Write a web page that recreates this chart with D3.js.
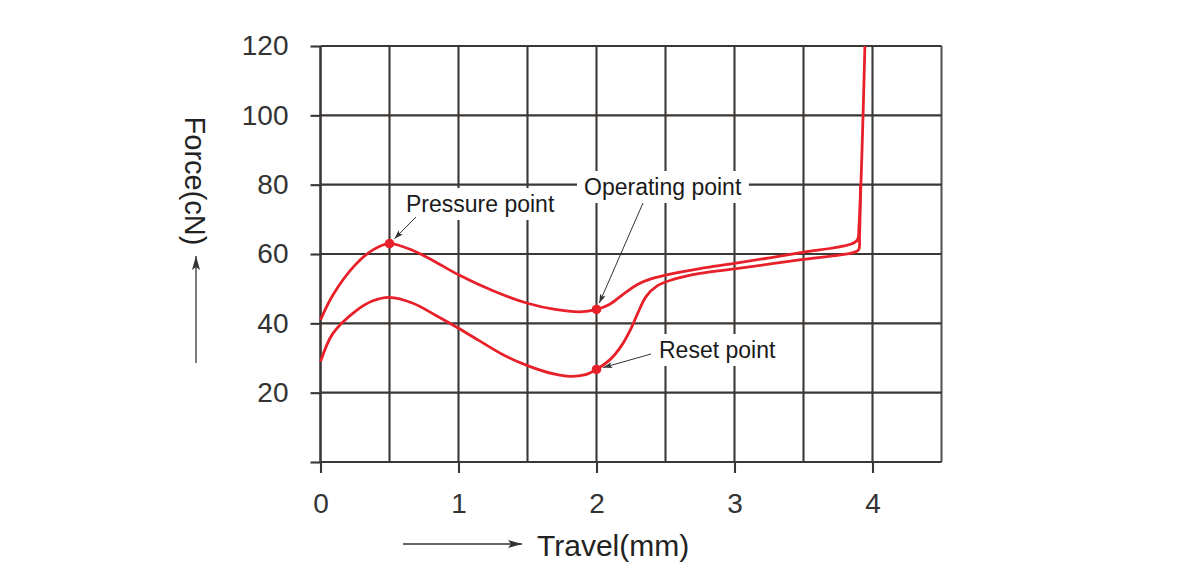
<!DOCTYPE html>
<html>
<head>
<meta charset="utf-8" />
<title>Force - Travel</title>
<style>
    body { margin: 0; background: #fff; }
    text { font-family: "Liberation Sans", Arial, sans-serif; }
</style>
</head>
<body>
<div id="container"></div>
<script src="https://cdn.jsdelivr.net/npm/d3@7"></script>
<script>
    // press stroke (upper curve) and return stroke (lower curve), [travel mm, force cN]
    const pressCurve = [
        [0, 41], [0.09, 48.2], [0.25, 56.8], [0.38, 61.2], [0.5, 63], [0.67, 61.0], [0.82, 58.0],
        [1.0, 54.0], [1.25, 49.4], [1.5, 45.8], [1.7, 44.0], [1.88, 43.3], [2.0, 44],
        [2.1, 45.6], [2.2, 48.6], [2.3, 51.3], [2.4, 52.9], [2.51, 54], [2.75, 55.8], [3.0, 57.3],
        [3.47, 60.3], [3.84, 62.8], [3.89, 64], [3.902, 68], [3.945, 120]
    ]
    const returnCurve = [
        [0, 28.9], [0.09, 37.1], [0.25, 43.4], [0.38, 46.5], [0.5, 47.5], [0.67, 45.8],
        [0.84, 42.2], [1.0, 38.6], [1.15, 35], [1.32, 31], [1.5, 27.8], [1.69, 25.4],
        [1.81, 24.7], [1.92, 25.2], [2.0, 26.7], [2.1, 29.6], [2.18, 33.5], [2.25, 38.5],
        [2.3, 43], [2.36, 47.8], [2.44, 50.8], [2.55, 52.6], [2.75, 54.4], [3.0, 55.7],
        [3.47, 58.3], [3.86, 60.4], [3.9, 61.2], [3.906, 65], [3.913, 80]
    ]
    const keyPoints = [
        { name: 'Pressure point', x: 0.5, y: 63 },
        { name: 'Operating point', x: 2.0, y: 44 },
        { name: 'Reset point', x: 2.0, y: 26.7 }
    ]
    const xTicks = [0, 1, 2, 3, 4]
    const yTicks = [0, 20, 40, 60, 80, 100, 120]
    const xGrid = [0, 0.5, 1, 1.5, 2, 2.5, 3, 3.5, 4, 4.5]
    const xLabels = ['0', '1', '2', '3', '4']
    const yLabels = ['', '20', '40', '60', '80', '100', '120']
    const xTitle = 'Travel(mm)'
    const yTitle = 'Force(cN)'

    const W = 1192, H = 580
    const plot = { left: 320.5, right: 941.5, top: 46, bottom: 462 }
    const gridColor = '#3b3735'
    const red = '#e8202a'

    let svg = d3.select('#container').append('svg').attr('width', W).attr('height', H)

    let xScale = d3.scaleLinear().domain([0, 4.5]).range([plot.left, plot.right])
    let yScale = d3.scaleLinear().domain([0, 120]).range([plot.bottom, plot.top])

    // grid
    svg.append('g').selectAll('line').data(xGrid).join('line')
        .attr('x1', d => xScale(d)).attr('x2', d => xScale(d))
        .attr('y1', plot.top).attr('y2', plot.bottom)
        .attr('stroke', (d, i) => i === xGrid.length - 1 ? '#555' : gridColor)
        .attr('stroke-width', d => d === 0 ? 2.6 : 2.1)
    svg.append('g').selectAll('line').data(yTicks).join('line')
        .attr('x1', plot.left).attr('x2', plot.right)
        .attr('y1', d => yScale(d)).attr('y2', d => yScale(d))
        .attr('stroke', gridColor).attr('stroke-width', 2.1)

    // axes (ticks + labels)
    let yAxis = d3.axisLeft(yScale).tickValues(yTicks).tickSize(10).tickPadding(22)
        .tickFormat((d, i) => yLabels[i])
    let gy = svg.append('g').attr('transform', `translate(${plot.left},0)`).call(yAxis)
    let xAxis = d3.axisBottom(xScale).tickValues(xTicks).tickSize(11).tickPadding(20)
        .tickFormat((d, i) => xLabels[i])
    let gx = svg.append('g').attr('transform', `translate(0,${plot.bottom})`).call(xAxis)
    ;[gx, gy].forEach(g => {
        g.select('.domain').remove()
        g.selectAll('.tick line').attr('stroke', gridColor).attr('stroke-width', 2.1)
        g.selectAll('.tick text').attr('fill', '#333').style('font-size', '28px')
            .style('font-family', '"Liberation Sans", Arial, sans-serif')
    })
    gx.selectAll('.tick text').attr('dy', '0.71em')

    // axis titles with arrows
    let defs = svg.append('defs')
    defs.append('marker').attr('id', 'bigArrow').attr('viewBox', '0 0 14 8')
        .attr('refX', 14).attr('refY', 4).attr('markerWidth', 14).attr('markerHeight', 8)
        .attr('markerUnits', 'userSpaceOnUse').attr('orient', 'auto')
        .append('path').attr('d', 'M0,0 L14,4 L0,8 L3,4 Z').attr('fill', '#333')
    defs.append('marker').attr('id', 'smallArrow').attr('viewBox', '0 0 9 6')
        .attr('refX', 9).attr('refY', 3).attr('markerWidth', 9).attr('markerHeight', 6)
        .attr('markerUnits', 'userSpaceOnUse').attr('orient', 'auto')
        .append('path').attr('d', 'M0,0 L9,3 L0,6 L2,3 Z').attr('fill', '#333')

    svg.append('line').attr('x1', 403).attr('y1', 544).attr('x2', 522).attr('y2', 544)
        .attr('stroke', '#333').attr('stroke-width', 1.3).attr('marker-end', 'url(#bigArrow)')
    svg.append('text').attr('x', 537).attr('y', 556).attr('fill', '#222')
        .style('font-size', '30px').text(xTitle)

    svg.append('line').attr('x1', 196).attr('y1', 363).attr('x2', 196).attr('y2', 256)
        .attr('stroke', '#333').attr('stroke-width', 1.3).attr('marker-end', 'url(#bigArrow)')
    svg.append('text').attr('transform', 'translate(185,181) rotate(90)')
        .attr('text-anchor', 'middle').attr('fill', '#222')
        .style('font-size', '29px').text(yTitle)

    // annotation labels (white boxes break the grid)
    const labelPos = [
        { tx: 406, ty: 212, ax: 416, ay: 217 },
        { tx: 584, ty: 195, ax: 643, ay: 203 },
        { tx: 659, ty: 358, ax: 651, ay: 354 }
    ]
    let ann = svg.append('g')
    keyPoints.forEach((p, i) => {
        let pos = labelPos[i]
        let box = ann.append('rect').attr('fill', '#fff')
        let t = ann.append('text').attr('x', pos.tx).attr('y', pos.ty).attr('fill', '#1a1a1a')
            .style('font-size', '23px').text(p.name)
        let bb = t.node().getBBox()
        box.attr('x', bb.x - 7).attr('y', pos.ty - 24).attr('width', bb.width + 14).attr('height', 32)
    })

    // curves
    let line = d3.line().x(d => xScale(d[0])).y(d => yScale(d[1])).curve(d3.curveCatmullRom.alpha(0.5))
    ;[pressCurve, returnCurve].forEach(c => {
        svg.append('path').datum(c).attr('d', line).attr('fill', 'none')
            .attr('stroke', red).attr('stroke-width', 2.8).attr('stroke-linejoin', 'round')
    })

    // points and leader arrows
    svg.append('g').selectAll('circle').data(keyPoints).join('circle')
        .attr('cx', d => xScale(d.x)).attr('cy', d => yScale(d.y)).attr('r', 4.8).attr('fill', red)
    keyPoints.forEach((p, i) => {
        let pos = labelPos[i]
        let px = xScale(p.x), py = yScale(p.y)
        let dx = pos.ax - px, dy = pos.ay - py, len = Math.hypot(dx, dy)
        svg.append('line').attr('x1', pos.ax).attr('y1', pos.ay)
            .attr('x2', px + dx / len * 7).attr('y2', py + dy / len * 7)
            .attr('stroke', '#333').attr('stroke-width', 1).attr('marker-end', 'url(#smallArrow)')
    })
</script>
</body>
</html>
